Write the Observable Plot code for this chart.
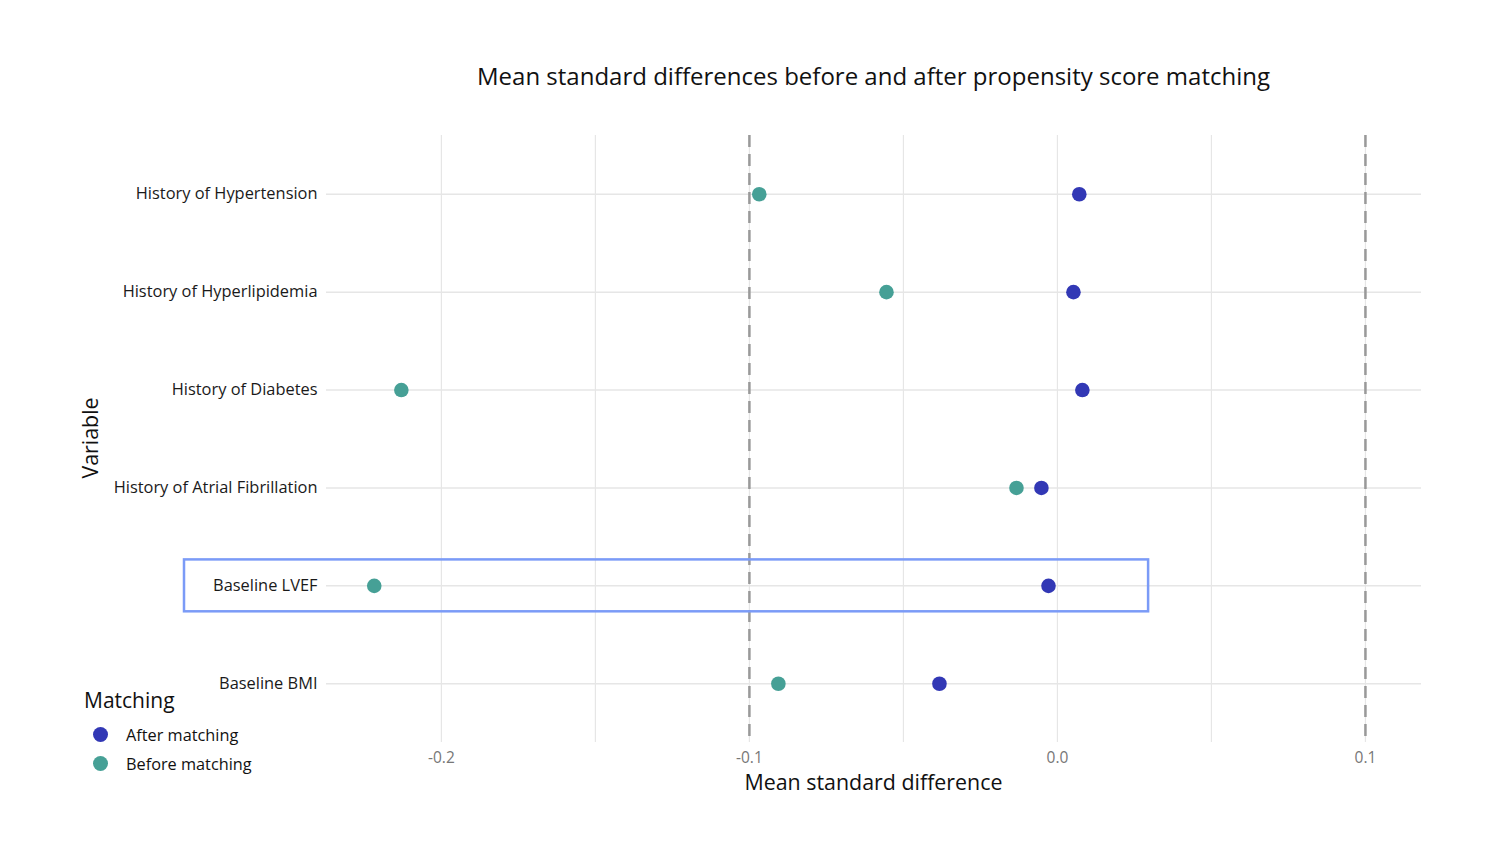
<!DOCTYPE html>
<html><head><meta charset="utf-8">
<script src="https://cdn.jsdelivr.net/npm/d3@7"></script>
<script src="https://cdn.jsdelivr.net/npm/@observablehq/plot@0.6"></script>
<style>
body{margin:0;background:#fff;font-family:"Open Sans",sans-serif;}
#wrap{position:relative;width:1500px;height:844px;overflow:hidden;}
#title{position:absolute;left:326px;width:1095px;top:59px;text-align:center;font-size:24px;color:#111;line-height:34px;}
#xlab{position:absolute;left:326px;width:1095px;top:767px;text-align:center;font-size:21.4px;color:#111;line-height:30px;}
#ylab{position:absolute;left:90px;top:438px;transform:translate(-50%,-50%) rotate(-90deg);font-size:21.4px;color:#111;white-space:nowrap;line-height:30px;}
#legend{position:absolute;left:84px;top:684px;color:#111;}
#legend .t{font-size:21px;line-height:32px;margin-bottom:4px;}
#legend .i{display:flex;align-items:center;height:29px;font-size:16.3px;}
#legend .d{width:15px;height:15px;border-radius:50%;margin-left:9px;margin-right:18px;}
svg{position:absolute;left:0;top:0;}
</style></head>
<body><div id="wrap">
<div id="title">Mean standard differences before and after propensity score matching</div>
<div id="xlab">Mean standard difference</div>
<div id="ylab">Variable</div>
</div>
<script>
const variables = ["History of Hypertension","History of Hyperlipidemia","History of Diabetes","History of Atrial Fibrillation","Baseline LVEF","Baseline BMI"];
const beforeValues = [-0.0968,-0.0555,-0.2130,-0.0133,-0.2218,-0.0906];
const afterValues = [0.0071,0.0052,0.0081,-0.0052,-0.0029,-0.0383];
const groups = ["After matching","Before matching"];
const groupColors = ["#3238b5","#46a096"];
const xTicks = [-0.2,-0.1,0.0,0.1];
const gridTicks = [-0.2,-0.15,-0.1,-0.05,0,0.05,0.1];
const thresholds = [-0.1,0.1];
const highlight = [{variable:"Baseline LVEF", x1:-0.2834, x2:0.0296}];

const data = [];
variables.forEach((v,i)=>{
  data.push({variable:v, value:beforeValues[i], group:groups[1]});
  data.push({variable:v, value:afterValues[i], group:groups[0]});
});

const chart = Plot.plot({
  width:1500, height:844,
  marginLeft:326, marginRight:79, marginTop:135, marginBottom:102,
  style:{fontFamily:"'Open Sans',sans-serif", background:"transparent"},
  x:{domain:[-0.2373,0.1182]},
  y:{type:"band", domain:variables, paddingInner:0, paddingOuter:0.1, round:false},
  color:{domain:groups, range:groupColors},
  marks:[
    Plot.gridX(gridTicks,{stroke:"#e6e6e6", strokeOpacity:1, strokeWidth:1.2}),
    Plot.gridY({stroke:"#e6e6e6", strokeOpacity:1, strokeWidth:1.5}),
    Plot.ruleX(thresholds,{stroke:"#999", strokeWidth:2.5, strokeDasharray:"12,7"}),
    Plot.dot(data,{x:"value", y:"variable", fill:"group", r:7.3}),
    Plot.barX(highlight,{x1:"x1", x2:"x2", y:"variable", fill:"none", stroke:"#7b9bf7", strokeWidth:2.5, insetTop:23, insetBottom:23}),
    Plot.axisX(xTicks,{tickSize:0, tickPadding:9, fontSize:15.5, color:"#777", tickFormat:d=>d.toFixed(1), label:null}),
    Plot.axisY({tickSize:0, tickPadding:9, fontSize:16.4, color:"#1a1a1a", label:null})
  ]
});
document.getElementById("wrap").prepend(chart);

const lg = document.createElement("div");
lg.id = "legend";
lg.innerHTML = '<div class="t">Matching</div>' + groups.map((g,i)=>`<div class="i"><div class="d" style="background:${groupColors[i]}"></div>${g}</div>`).join("");
document.getElementById("wrap").appendChild(lg);
</script>
</body></html>
